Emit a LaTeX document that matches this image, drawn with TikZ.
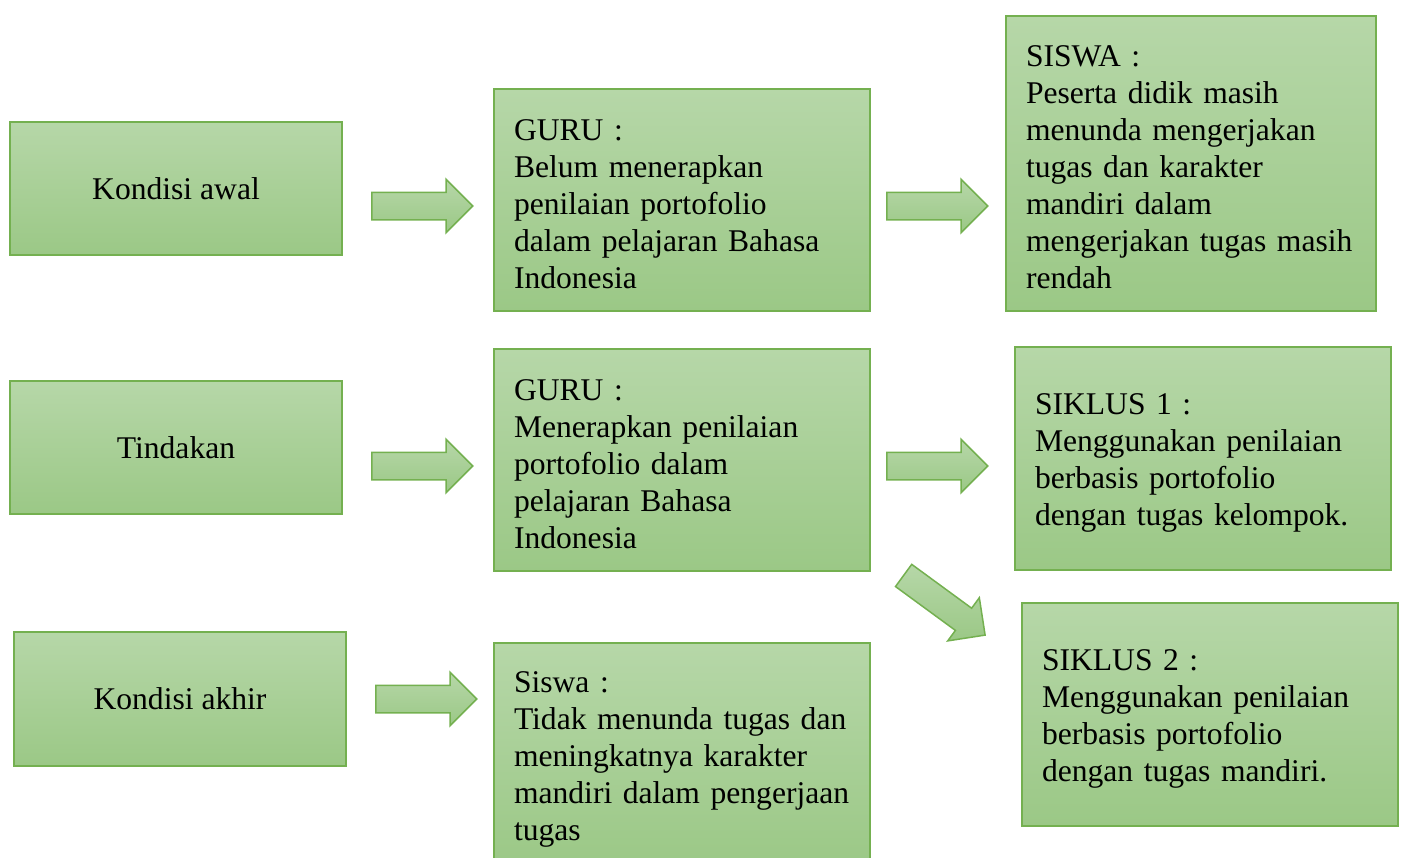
\documentclass[tikz,border=0pt]{standalone}
\usepackage{fontspec}
\setmainfont{Liberation Serif}
\usetikzlibrary{shapes.arrows}
\definecolor{gtop}{HTML}{B6D7A8}
\definecolor{gbot}{HTML}{9BC886}
\definecolor{gline}{HTML}{74B050}
\tikzset{
  box/.style={draw=gline, line width=0.75pt, top color=gtop, bottom color=gbot,
    inner sep=0pt, font=\fontsize{15.8}{18.5}\selectfont},
  lbox/.style={box, align=left, text width=#1, inner xsep=10pt,
    execute at begin node={\rule{0pt}{14.5pt}}},
  blockarrow/.style={single arrow, draw=gline, line width=0.75pt, top color=gtop, bottom color=gbot,
    minimum height=50.5pt, minimum width=26pt, single arrow head extend=6.5pt,
    single arrow head indent=0pt, inner xsep=0pt, inner ysep=6.5pt, anchor=tail}
}
\begin{document}
\begin{tikzpicture}[x=0.5pt,y=-0.5pt]
\useasboundingbox (0,0) rectangle (1402,857);
% left column
\node[box, minimum width=166pt, minimum height=66.5pt] (ka) at (176,188.5) {Kondisi awal};
\node[box, minimum width=166pt, minimum height=66.5pt] (ti) at (176,447.5) {Tindakan};
\node[box, minimum width=166pt, minimum height=67pt] (kk) at (180,699) {Kondisi akhir};
% middle column
\node[lbox=168pt, minimum width=188pt, minimum height=111pt] (g1) at (682,200) {GURU :\\Belum menerapkan\\penilaian portofolio\\dalam pelajaran Bahasa\\Indonesia};
\node[lbox=168pt, minimum width=188pt, minimum height=111pt] (g2) at (682,460) {GURU :\\Menerapkan penilaian\\portofolio dalam\\pelajaran Bahasa\\Indonesia};
\node[lbox=168pt, minimum width=188pt, minimum height=112pt] (sw) at (682,755) {Siswa :\\Tidak menunda tugas dan\\meningkatnya karakter\\mandiri dalam pengerjaan\\tugas};
% right column
\node[lbox=165pt, minimum width=185pt, minimum height=147.5pt] (ss) at (1191,163.5) {SISWA :\\Peserta didik masih\\menunda mengerjakan\\tugas dan karakter\\mandiri dalam\\mengerjakan tugas masih\\rendah};
\node[lbox=168pt, minimum width=188pt, minimum height=111.5pt] (s1) at (1203,458.5) {SIKLUS 1 :\\Menggunakan penilaian\\berbasis portofolio\\dengan tugas kelompok.};
\node[lbox=168pt, minimum width=188pt, minimum height=111.5pt] (s2) at (1210,714.5) {SIKLUS 2 :\\Menggunakan penilaian\\berbasis portofolio\\dengan tugas mandiri.};
% block arrows
\node[blockarrow] (a1) at (371,206) {};
\node[blockarrow] (a2) at (886,206) {};
\node[blockarrow] (a3) at (371,466) {};
\node[blockarrow] (a4) at (886,466) {};
\node[blockarrow] (a5) at (375,699) {};
\node[blockarrow, rotate=-36.2] (a6) at (903,575) {};
\end{tikzpicture}
\end{document}
